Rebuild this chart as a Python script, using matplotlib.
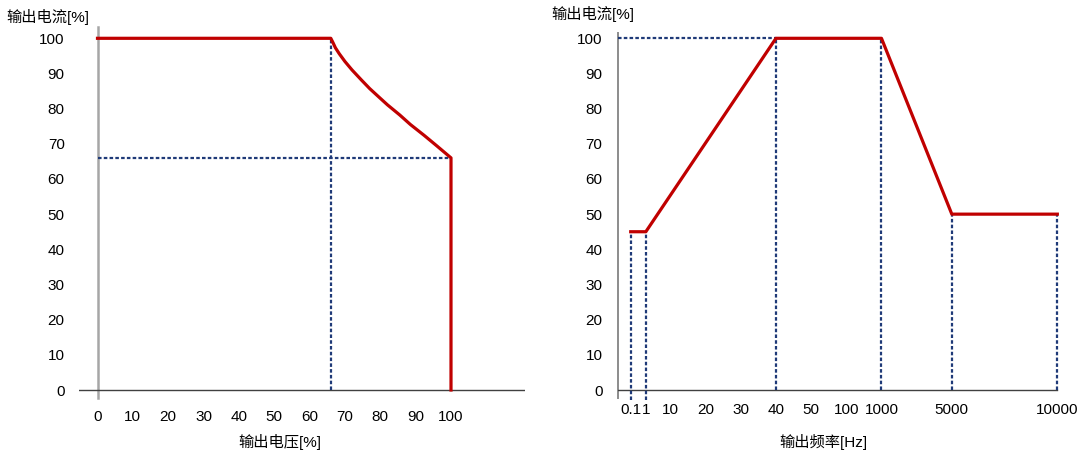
import numpy as np
import matplotlib
matplotlib.use("Agg")
import matplotlib.pyplot as plt

# ---- data -------------------------------------------------------------
# Output current vs. output voltage (constant current, then power-limited)
voltage = [0, 66, 66.6, 67.3, 68.4, 70.0, 72.0, 74.7, 77.0, 79.6, 82.0, 85.5, 88.5, 92.4, 96.0, 100, 100]
current_v = [100, 100, 98.8, 97.3, 95.6, 93.4, 91.0, 88.1, 85.7, 83.3, 81.1, 78.2, 75.5, 72.4, 69.4, 66, 0]
v_knee = 66
i_knee = 66

# Output current vs. output frequency
freq = [0.1, 1, 40, 1000, 5000, 10000]
current_f = [45, 45, 100, 100, 50, 50]

y_ticks = [0, 10, 20, 30, 40, 50, 60, 70, 80, 90, 100]
v_ticks = [0, 10, 20, 30, 40, 50, 60, 70, 80, 90, 100]
f_ticks = [0.1, 1, 10, 20, 30, 40, 50, 100, 1000, 5000, 10000]
f_tick_labels = ["0.1", "1", "10", "20", "30", "40", "50", "100", "1000", "5000", "10000"]

# ---- styling ----------------------------------------------------------
plt.rcParams["font.family"] = ["Liberation Sans", "Noto Sans CJK SC", "DejaVu Sans"]
RED = "#C00000"
NAVY = "#1F3A78"
DASH = (0, (1.6, 1.0))
FS = 11

W, H = 1081, 453
fig = plt.figure(figsize=(W / 100, H / 100), dpi=100)


def px_axes(left, right, top, bottom):
    return fig.add_axes([left / W, (H - bottom) / H, (right - left) / W, (bottom - top) / H])


def clean(ax):
    for s in ax.spines.values():
        s.set_visible(False)
    ax.set_facecolor("none")


# ---- left: current vs voltage -----------------------------------------
x0, xs = 97.5, 3.535      # pixel of x=0, pixels per unit
y0, ys = 390.0, 3.517     # pixel of y=0, pixels per unit
xl = (-5.1, 120.8)
yl = (-3.0, 104.0)
axL = px_axes(x0 + xl[0] * xs, x0 + xl[1] * xs, y0 - yl[1] * ys, y0 - yl[0] * ys)
clean(axL)
axL.set_xlim(*xl)
axL.set_ylim(*yl)

axL.plot([0, 0], [-2.3, 103.1], color="#A6A6A6", lw=1.8, zorder=1)
axL.plot([xl[0], xl[1]], [0, 0], color="#404040", lw=1.0, zorder=1)
axL.plot([v_knee, v_knee], [0, 100], color=NAVY, lw=1.6, linestyle=DASH, zorder=2)
axL.plot([0, 100], [i_knee, i_knee], color=NAVY, lw=1.6, linestyle=DASH, zorder=2)
axL.plot(voltage, current_v, color=RED, lw=2.3, zorder=3, solid_joinstyle="round")

axL.set_xticks(v_ticks)
axL.set_xticklabels([str(v) for v in v_ticks])
axL.set_yticks(y_ticks)
axL.set_yticklabels([str(v) for v in y_ticks])
axL.tick_params(axis="both", length=0, labelsize=FS, colors="#000000")
axL.tick_params(axis="y", pad=10.6)
axL.tick_params(axis="x", pad=6.5)

# ---- right: current vs frequency (category-like frequency axis) --------
f_slots = [0.37, 0.8, 1.5, 2.5, 3.5, 4.5, 5.5, 6.5, 7.5, 9.5, 12.5]


def fpos(f):
    return np.interp(np.log10(f), np.log10(f_ticks), f_slots)


rx0, rxs = 617.7, 35.17
xr = (0.0, 12.8)
axR = px_axes(rx0 + xr[0] * rxs, rx0 + xr[1] * rxs, y0 - yl[1] * ys, y0 - yl[0] * ys)
clean(axR)
axR.set_xlim(*xr)
axR.set_ylim(*yl)

axR.plot([0, 0], [-2.3, 101.5], color="#8C8C8C", lw=1.4, zorder=1, clip_on=False)
axR.plot([0, fpos(10000)], [0, 0], color="#404040", lw=1.0, zorder=1)
axR.plot([0, fpos(40)], [100, 100], color=NAVY, lw=1.6, linestyle=DASH, zorder=2)
for f, c in zip(freq, current_f):
    bottom = -2.8 if f < 10 else 0
    axR.plot([fpos(f), fpos(f)], [bottom, c], color=NAVY, lw=1.6, linestyle=DASH,
             zorder=2, clip_on=False)
axR.plot(fpos(np.array(freq)), current_f, color=RED, lw=2.3, zorder=3,
         solid_joinstyle="round")

axR.set_xticks(f_slots)
axR.set_xticklabels(f_tick_labels)
axR.set_yticks(y_ticks)
axR.set_yticklabels([str(v) for v in y_ticks])
axR.tick_params(axis="both", length=0, labelsize=FS, colors="#000000")
axR.tick_params(axis="y", pad=11.0)
axR.tick_params(axis="x", pad=2.0)

# ---- axis titles --------------------------------------------------------
def ftext(x, y, s, **kw):
    fig.text(x / W, 1 - y / H, s, fontsize=FS, ha="center", va="center", **kw)


ftext(47.5, 16.7, "输出电流[%]")
ftext(593, 14.5, "输出电流[%]")
ftext(280, 441.7, "输出电压[%]")
ftext(823, 441.7, "输出频率[Hz]")

fig.savefig("out.png", dpi=100)
